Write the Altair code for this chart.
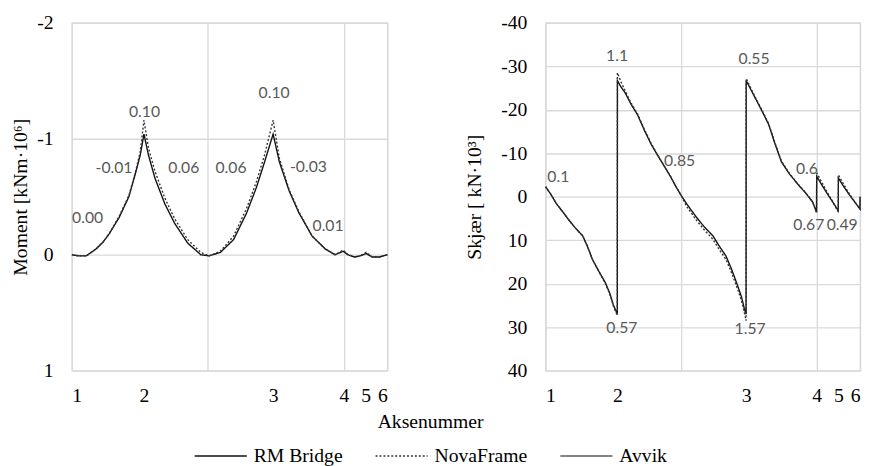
import altair as alt
import pandas as pd

# ---------------- data ----------------
series = ["RM Bridge", "NovaFrame", "Avvik"]

axis_pos = [0, 53, 148, 200, 216, 232]      # support positions (m)
axis_names = ["1", "2", "3", "4", "5", "6"]
grid_x = [0, 100, 200, 232]

# Moment [kNm·10^6]
moment_x = [0, 5, 10.6, 17.8, 23, 27.4, 34.7, 41.9, 46.7, 50.3, 53, 56.3, 61.1, 68.3,
            75.6, 85.2, 94.8, 100.8, 109.2, 118.9, 128.5, 135.7, 141.7, 148, 152.6,
            159.8, 167, 176.7, 186.3, 193.5, 199.5, 203, 208, 212, 216.4, 221, 226, 232]
moment_rm = [0, 0.01, 0.01, -0.05, -0.11, -0.18, -0.32, -0.50, -0.70, -0.86, -1.04, -0.86,
             -0.66, -0.44, -0.27, -0.10, 0, 0.01, -0.02, -0.13, -0.36, -0.58, -0.80, -1.04,
             -0.80, -0.55, -0.36, -0.16, -0.05, 0, -0.03, 0, 0.02, 0.01, -0.01, 0.02, 0.02, 0]
moment_nova = [0, 0.01, 0.01, -0.05, -0.11, -0.18, -0.33, -0.51, -0.71, -0.89, -1.16, -0.92,
               -0.72, -0.49, -0.31, -0.13, -0.02, 0.01, -0.03, -0.16, -0.40, -0.63, -0.86, -1.16,
               -0.83, -0.56, -0.37, -0.16, -0.05, 0, -0.04, 0, 0.02, 0.01, -0.02, 0.02, 0.02, 0]

# Shear [kN·10^3]
shear_x = [0, 4, 8, 12.5, 17.3, 22, 27.4, 31, 34.7, 39, 44, 47.5, 50, 52.9,
           53, 55.5, 58.5, 63, 67.9, 73, 78, 82.3, 87, 92.4, 96, 100, 104, 111, 117,
           123.5, 128, 133, 137, 141.5, 144.5, 146.6, 147.9,
           148, 151, 154.5, 159.5, 164.6, 169, 174, 180, 186, 192, 197, 199.9,
           200, 204, 208, 212, 215.9,
           216, 220, 224, 228, 231.9, 232]
shear_rm = [-2.3, -0.5, 1.6, 3.4, 5.4, 7.2, 9.0, 11.5, 14.5, 17.0, 19.7, 22.3, 24.9, 27.0,
            -26.7, -25.3, -24.0, -21.3, -18.8, -15.2, -12.0, -9.7, -7.3, -4.5, -2.4, -0.3, 1.6,
            4.6, 6.9, 9.0, 11.3, 13.6, 16.5, 20.3, 23.0, 25.7, 27.0,
            -26.7, -24.9, -22.8, -19.8, -16.6, -12.4, -8.0, -5.2, -2.9, -0.8, 1.2, 3.5,
            -4.7, -2.6, -0.6, 1.3, 3.2,
            -4.3, -2.3, -0.5, 1.2, 2.8, 0]
shear_nova = [-2.3, -0.5, 1.6, 3.4, 5.4, 7.2, 9.0, 11.5, 14.5, 17.0, 19.9, 22.5, 25.1, 27.3,
              -28.5, -26.5, -24.5, -21.6, -19.0, -15.4, -12.2, -9.8, -7.4, -4.6, -2.5, -0.3, 2.2,
              5.3, 7.6, 9.8, 12.1, 14.4, 17.3, 21.1, 23.9, 26.6, 28.5,
              -27.2, -25.2, -23.0, -20.0, -16.8, -12.6, -8.2, -5.3, -3.0, -0.9, 1.2, 3.8,
              -5.5, -3.2, -0.9, 1.2, 3.5,
              -5.0, -2.8, -0.7, 1.1, 2.8, 0]

# data labels (deviations)
m_lab_text = ["0.00", "-0.01", "0.10", "0.06", "0.06", "0.10", "-0.03", "0.01"]
m_lab_x = [11.6, 31, 53.4, 82.3, 117, 148.7, 174, 188.4]
m_lab_y = [-0.32, -0.75, -1.23, -0.75, -0.75, -1.39, -0.76, -0.25]

s_lab_text = ["0.1", "1.1", "0.57", "0.85", "0.55", "1.57", "0.6", "0.67", "0.49"]
s_lab_x = [9.4, 52.7, 56.3, 98.9, 153.8, 150.9, 192.8, 194.2, 218.8]
s_lab_y = [-4.5, -32.3, 30.3, -8.1, -31.6, 30.5, -6.3, 6.6, 6.6]

# ---------------- tables ----------------
def line_df(xs, a, b):
    n = len(xs)
    return pd.DataFrame({
        "x": xs + xs,
        "v": a + b,
        "serie": [series[0]] * n + [series[1]] * n,
        "i": list(range(n)) + list(range(n)),
    })

df_m = line_df(moment_x, moment_rm, moment_nova)
df_s = line_df(shear_x, shear_rm, shear_nova)
lab_m = pd.DataFrame({"x": m_lab_x, "v": m_lab_y, "t": m_lab_text})
lab_s = pd.DataFrame({"x": s_lab_x, "v": s_lab_y, "t": s_lab_text})

SERIF = "Liberation Serif"
GRID = "#d9d9d9"

pos_list = "[" + ",".join(str(p) for p in axis_pos) + "]"
name_list = "[" + ",".join("'" + s + "'" for s in axis_names) + "]"
grid_list = "[" + ",".join(str(g) for g in grid_x) + "]"
lab_expr = (f"indexof({pos_list}, datum.value) >= 0 ? "
            f"{name_list}[indexof({pos_list}, datum.value)] : ''")
grid_test = f"indexof({grid_list}, datum.value) >= 0"

def x_enc():
    return alt.X(
        "x:Q",
        scale=alt.Scale(domain=[0, 232], nice=False, zero=False),
        axis=alt.Axis(
            values=sorted(set(axis_pos + grid_x)),
            labelExpr=lab_expr,
            labelFlush=True,
            labelOverlap=False,
            labelPadding=15,
            grid=True,
            gridOpacity={"condition": {"test": grid_test, "value": 1}, "value": 0},
            title=None,
        ),
    )

def y_enc(domain, vals, title, tpad):
    return alt.Y(
        "v:Q",
        scale=alt.Scale(domain=domain, reverse=True, nice=False, zero=False),
        axis=alt.Axis(values=vals, labelExpr="'' + datum.value", title=title,
                      labelPadding=19, titlePadding=tpad),
    )

leg = alt.Legend(
    title="Aksenummer",
    orient="none",
    legendX=124,
    legendY=396,
    direction="horizontal",
    titleAnchor="middle",
    titlePadding=-3,
    symbolType="stroke",
    symbolSize=2809,
    symbolStrokeWidth=1.5,
    labelOffset=6,
    columnPadding=30,
    labelFont=SERIF,
    labelFontSize=20,
    labelColor="black",
    titleFont=SERIF,
    titleFontSize=20,
    titleFontWeight="normal",
    titleColor="black",
)

color = alt.Color("serie:N", scale=alt.Scale(domain=series, range=["#111111", "#333333", "#595959"]),
                  legend=leg)
dash = alt.StrokeDash("serie:N", scale=alt.Scale(domain=series, range=[[1, 0], [2, 2], [1, 0]]),
                      legend=leg)

def panel(df, lab, domain, vals, title, tpad, w):
    y = y_enc(domain, vals, title, tpad)
    lines = alt.Chart(df).mark_line(strokeWidth=1.4).encode(
        x=x_enc(), y=y, color=color, strokeDash=dash, order=alt.Order("i:Q"))
    txt = alt.Chart(lab).mark_text(font="Lato", fontSize=16, color="#595959").encode(
        x=x_enc(), y=y, text="t:N")
    return alt.layer(lines, txt).properties(width=w, height=354)

left = panel(df_m, lab_m, [-2, 1], [-2, -1, 0, 1], "Moment [kNm·10⁶]", 6, 321)
right = panel(df_s, lab_s, [-40, 40], [-40, -30, -20, -10, 0, 10, 20, 30, 40],
              "Skjær [ kN·10³]", 17, 320)

chart = alt.hconcat(left, right, spacing=73).properties(
    padding={"left": 2, "top": 0, "right": 0, "bottom": 0},
    background="white",
).configure(
    style={"guide-label": {"font": SERIF, "fontSize": 20, "fill": "black"},
           "guide-title": {"font": SERIF, "fontSize": 20, "fill": "black", "fontWeight": "normal"}}
).configure_view(
    stroke=GRID, strokeWidth=1.3
).configure_axis(
    gridColor=GRID, gridWidth=1.3, domain=False, ticks=False, tickSize=0,
    labelFont=SERIF, labelFontSize=20, labelColor="black",
    titleFont=SERIF, titleFontSize=20, titleFontWeight="normal", titleColor="black",
).configure_legend(
    labelFont=SERIF, labelFontSize=20, labelColor="black",
    titleFont=SERIF, titleFontSize=20, titleFontWeight="normal", titleColor="black",
)

chart.save("out.html", embed_options={"renderer": "svg", "actions": False})
